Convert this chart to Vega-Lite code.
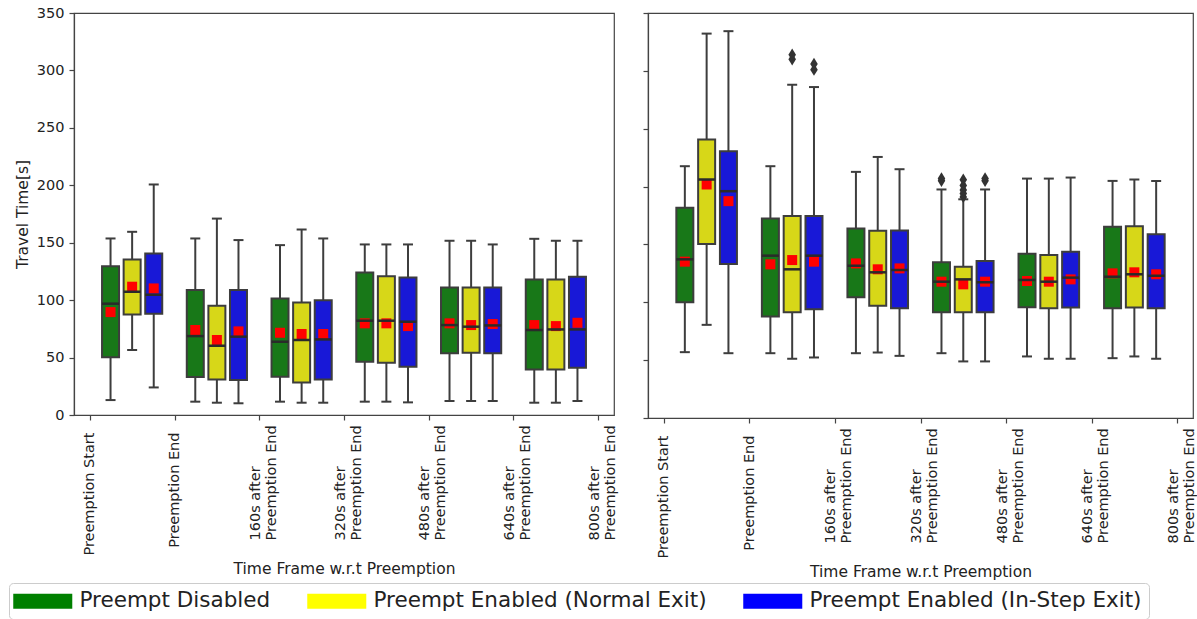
{
  "$schema": "https://vega.github.io/schema/vega-lite/v6.json",
  "padding": {"left": 8, "top": 4, "right": 0, "bottom": 0},
  "background": "white",
  "datasets": {
    "boxes": [
      {"panel": "L", "frame": 0, "mode": "Preempt Disabled", "lower": 13, "q1": 50.2, "median": 96.9, "q3": 129.6, "upper": 153.7, "mean": 89.6},
      {"panel": "L", "frame": 0, "mode": "Preempt Enabled (Normal Exit)", "lower": 56.6, "q1": 87.6, "median": 107.3, "q3": 135.4, "upper": 159.5, "mean": 111.7},
      {"panel": "L", "frame": 0, "mode": "Preempt Enabled (In-Step Exit)", "lower": 24, "q1": 88.2, "median": 104.7, "q3": 140.7, "upper": 200.7, "mean": 110.2},
      {"panel": "L", "frame": 1, "mode": "Preempt Disabled", "lower": 11.6, "q1": 33, "median": 68.7, "q3": 108.8, "upper": 153.7, "mean": 74},
      {"panel": "L", "frame": 1, "mode": "Preempt Enabled (Normal Exit)", "lower": 10.7, "q1": 31, "median": 60.3, "q3": 95.1, "upper": 171, "mean": 65.3},
      {"panel": "L", "frame": 1, "mode": "Preempt Enabled (In-Step Exit)", "lower": 10.2, "q1": 30.5, "median": 68.2, "q3": 108.8, "upper": 152.3, "mean": 72.8},
      {"panel": "L", "frame": 2, "mode": "Preempt Disabled", "lower": 11.6, "q1": 33.4, "median": 63.8, "q3": 101.5, "upper": 147.9, "mean": 71.6},
      {"panel": "L", "frame": 2, "mode": "Preempt Enabled (Normal Exit)", "lower": 10.7, "q1": 28.4, "median": 65.3, "q3": 98, "upper": 161.5, "mean": 70.5},
      {"panel": "L", "frame": 2, "mode": "Preempt Enabled (In-Step Exit)", "lower": 10.7, "q1": 31, "median": 65.8, "q3": 99.8, "upper": 153.7, "mean": 70.5},
      {"panel": "L", "frame": 3, "mode": "Preempt Disabled", "lower": 11.6, "q1": 46.4, "median": 82.1, "q3": 124.1, "upper": 148.5, "mean": 79.8},
      {"panel": "L", "frame": 3, "mode": "Preempt Enabled (Normal Exit)", "lower": 11.6, "q1": 45.5, "median": 82.1, "q3": 120.9, "upper": 148.5, "mean": 79.8},
      {"panel": "L", "frame": 3, "mode": "Preempt Enabled (In-Step Exit)", "lower": 11, "q1": 42, "median": 81.2, "q3": 119.8, "upper": 148.5, "mean": 77.4},
      {"panel": "L", "frame": 4, "mode": "Preempt Disabled", "lower": 12.2, "q1": 53.7, "median": 78.3, "q3": 111, "upper": 151.7, "mean": 79.8},
      {"panel": "L", "frame": 4, "mode": "Preempt Enabled (Normal Exit)", "lower": 12.2, "q1": 54.2, "median": 76.9, "q3": 111, "upper": 151.7, "mean": 78.3},
      {"panel": "L", "frame": 4, "mode": "Preempt Enabled (In-Step Exit)", "lower": 12.2, "q1": 53.7, "median": 78, "q3": 111, "upper": 148.5, "mean": 79.2},
      {"panel": "L", "frame": 5, "mode": "Preempt Disabled", "lower": 10.7, "q1": 39.7, "median": 74, "q3": 118, "upper": 153.4, "mean": 78.3},
      {"panel": "L", "frame": 5, "mode": "Preempt Enabled (Normal Exit)", "lower": 10.7, "q1": 39.7, "median": 74.5, "q3": 118, "upper": 151.7, "mean": 77.4},
      {"panel": "L", "frame": 5, "mode": "Preempt Enabled (In-Step Exit)", "lower": 12.2, "q1": 41.2, "median": 74.5, "q3": 120.4, "upper": 151.7, "mean": 80.3},
      {"panel": "R", "frame": 0, "mode": "Preempt Disabled", "lower": 56.9, "q1": 100, "median": 137.1, "q3": 181.6, "upper": 217.6, "mean": 135.1},
      {"panel": "R", "frame": 0, "mode": "Preempt Enabled (Normal Exit)", "lower": 80.5, "q1": 150.3, "median": 206.1, "q3": 240.6, "upper": 332.2, "mean": 201.8},
      {"panel": "R", "frame": 0, "mode": "Preempt Enabled (In-Step Exit)", "lower": 56, "q1": 133.1, "median": 196, "q3": 230.5, "upper": 334.3, "mean": 187.4},
      {"panel": "R", "frame": 1, "mode": "Preempt Disabled", "lower": 56, "q1": 87.7, "median": 140.3, "q3": 172.4, "upper": 217.6, "mean": 132.8},
      {"panel": "R", "frame": 1, "mode": "Preempt Enabled (Normal Exit)", "lower": 51.2, "q1": 91.4, "median": 128.5, "q3": 174.5, "upper": 288, "mean": 136.5},
      {"panel": "R", "frame": 1, "mode": "Preempt Enabled (In-Step Exit)", "lower": 52.3, "q1": 94, "median": 140.3, "q3": 174.5, "upper": 286, "mean": 135.1},
      {"panel": "R", "frame": 2, "mode": "Preempt Disabled", "lower": 56, "q1": 104.3, "median": 131.6, "q3": 163.8, "upper": 212.7, "mean": 133.6},
      {"panel": "R", "frame": 2, "mode": "Preempt Enabled (Normal Exit)", "lower": 56.6, "q1": 97.1, "median": 125.9, "q3": 161.8, "upper": 225.6, "mean": 128.5},
      {"panel": "R", "frame": 2, "mode": "Preempt Enabled (In-Step Exit)", "lower": 53.7, "q1": 94.8, "median": 127.9, "q3": 162.1, "upper": 215, "mean": 129.3},
      {"panel": "R", "frame": 3, "mode": "Preempt Disabled", "lower": 56, "q1": 91.4, "median": 117.8, "q3": 134.5, "upper": 197.5, "mean": 117.8},
      {"panel": "R", "frame": 3, "mode": "Preempt Enabled (Normal Exit)", "lower": 48.9, "q1": 91.4, "median": 119.8, "q3": 130.8, "upper": 189, "mean": 115.5},
      {"panel": "R", "frame": 3, "mode": "Preempt Enabled (In-Step Exit)", "lower": 48.9, "q1": 91.4, "median": 117.3, "q3": 135.7, "upper": 197.5, "mean": 117.8},
      {"panel": "R", "frame": 4, "mode": "Preempt Disabled", "lower": 53.2, "q1": 95.7, "median": 119.3, "q3": 142, "upper": 206.9, "mean": 118.4},
      {"panel": "R", "frame": 4, "mode": "Preempt Enabled (Normal Exit)", "lower": 51.2, "q1": 94.8, "median": 117.8, "q3": 140.8, "upper": 206.9, "mean": 117.8},
      {"panel": "R", "frame": 4, "mode": "Preempt Enabled (In-Step Exit)", "lower": 51.2, "q1": 95.4, "median": 121.3, "q3": 143.7, "upper": 207.8, "mean": 119.8},
      {"panel": "R", "frame": 5, "mode": "Preempt Disabled", "lower": 51.7, "q1": 94.8, "median": 122.1, "q3": 165.3, "upper": 204.9, "mean": 125},
      {"panel": "R", "frame": 5, "mode": "Preempt Enabled (Normal Exit)", "lower": 53.2, "q1": 95.4, "median": 124.2, "q3": 165.8, "upper": 206.1, "mean": 125.9},
      {"panel": "R", "frame": 5, "mode": "Preempt Enabled (In-Step Exit)", "lower": 51.2, "q1": 94.8, "median": 123, "q3": 158.9, "upper": 204.9, "mean": 124.2}
    ],
    "outliers": [
      {"panel": "R", "frame": 1, "mode": "Preempt Enabled (Normal Exit)", "value": 310},
      {"panel": "R", "frame": 1, "mode": "Preempt Enabled (Normal Exit)", "value": 314},
      {"panel": "R", "frame": 1, "mode": "Preempt Enabled (In-Step Exit)", "value": 301},
      {"panel": "R", "frame": 1, "mode": "Preempt Enabled (In-Step Exit)", "value": 306},
      {"panel": "R", "frame": 3, "mode": "Preempt Disabled", "value": 205},
      {"panel": "R", "frame": 3, "mode": "Preempt Disabled", "value": 207},
      {"panel": "R", "frame": 3, "mode": "Preempt Enabled (Normal Exit)", "value": 191},
      {"panel": "R", "frame": 3, "mode": "Preempt Enabled (Normal Exit)", "value": 194},
      {"panel": "R", "frame": 3, "mode": "Preempt Enabled (Normal Exit)", "value": 197},
      {"panel": "R", "frame": 3, "mode": "Preempt Enabled (Normal Exit)", "value": 201},
      {"panel": "R", "frame": 3, "mode": "Preempt Enabled (Normal Exit)", "value": 206},
      {"panel": "R", "frame": 3, "mode": "Preempt Enabled (In-Step Exit)", "value": 205},
      {"panel": "R", "frame": 3, "mode": "Preempt Enabled (In-Step Exit)", "value": 207}
    ]
  },
  "bounds": "flush",
  "spacing": 34,
  "hconcat": [
    {
      "width": 540,
      "height": 402,
      "data": {"name": "boxes"},
      "transform": [{"filter": "datum.panel == 'L'"}],
      "encoding": {
        "x": {"field": "frame", "type": "quantitative",
          "scale": {"domain": [-0.627, 5.627], "nice": false, "zero": false},
          "axis": {"values": [-0.5, 0.5, 1.5, 2.5, 3.5, 4.5, 5.5],
            "labelExpr": "[['Preemption Start'],['Preemption End'],['160s after','Preemption End'],['320s after','Preemption End'],['480s after','Preemption End'],['640s after','Preemption End'],['800s after','Preemption End']][round(datum.value + 0.5)]",
            "labelAngle": -90,
            "labelAlign": {"condition": {"test": "datum.value > 1", "value": "left"}, "value": "right"},
            "labelBaseline": {"condition": {"test": "datum.value > 1", "value": "alphabetic"}, "value": "middle"},
            "labelPadding": {"condition": {"test": "datum.value > 1", "value": 120}, "value": 12},
            "title": "Time Frame w.r.t Preemption"}},
        "y": {"type": "quantitative", "scale": {"domain": [0, 350], "nice": false},
          "axis": {"values": [0, 50, 100, 150, 200, 250, 300, 350], "title": "Travel Time[s]"}}
      },
      "layer": [
        {"transform": [{"filter": "datum.mode == 'Preempt Disabled'"}],
         "layer": [
          {"mark": {"type": "rule", "color": "#3d3d3d", "strokeWidth": 2, "xOffset": -21.6},
           "encoding": {"y": {"field": "lower", "type": "quantitative"}, "y2": {"field": "upper"}}},
          {"mark": {"type": "tick", "orient": "horizontal", "size": 10, "thickness": 2, "color": "#3d3d3d", "opacity": 1, "xOffset": -21.6},
           "encoding": {"y": {"field": "lower", "type": "quantitative"}}},
          {"mark": {"type": "tick", "orient": "horizontal", "size": 10, "thickness": 2, "color": "#3d3d3d", "opacity": 1, "xOffset": -21.6},
           "encoding": {"y": {"field": "upper", "type": "quantitative"}}},
          {"mark": {"type": "bar", "width": 17, "strokeWidth": 0, "xOffset": -21.6},
           "encoding": {"y": {"field": "q1", "type": "quantitative"}, "y2": {"field": "q3"},
             "color": {"field": "mode", "type": "nominal",
               "scale": {"domain": ["Preempt Disabled", "Preempt Enabled (Normal Exit)", "Preempt Enabled (In-Step Exit)"], "range": ["#008000", "#ffff00", "#0000ff"]}}}},
          {"mark": {"type": "bar", "width": 17, "fill": "#606060", "fillOpacity": 0.25, "stroke": "#3d3d3d", "strokeWidth": 2, "strokeOpacity": 1, "xOffset": -21.6},
           "encoding": {"y": {"field": "q1", "type": "quantitative"}, "y2": {"field": "q3"}}},
          {"mark": {"type": "point", "shape": "square", "filled": true, "size": 100, "color": "#ff0000", "opacity": 1, "xOffset": -21.6},
           "encoding": {"y": {"field": "mean", "type": "quantitative"}}},
          {"mark": {"type": "tick", "orient": "horizontal", "size": 17, "thickness": 2.5, "color": "#2a2a2a", "opacity": 1, "xOffset": -21.6},
           "encoding": {"y": {"field": "median", "type": "quantitative"}}}
         ]},
        {"transform": [{"filter": "datum.mode == 'Preempt Enabled (Normal Exit)'"}],
         "layer": [
          {"mark": {"type": "rule", "color": "#3d3d3d", "strokeWidth": 2},
           "encoding": {"y": {"field": "lower", "type": "quantitative"}, "y2": {"field": "upper"}}},
          {"mark": {"type": "tick", "orient": "horizontal", "size": 10, "thickness": 2, "color": "#3d3d3d", "opacity": 1},
           "encoding": {"y": {"field": "lower", "type": "quantitative"}}},
          {"mark": {"type": "tick", "orient": "horizontal", "size": 10, "thickness": 2, "color": "#3d3d3d", "opacity": 1},
           "encoding": {"y": {"field": "upper", "type": "quantitative"}}},
          {"mark": {"type": "bar", "width": 17, "strokeWidth": 0},
           "encoding": {"y": {"field": "q1", "type": "quantitative"}, "y2": {"field": "q3"},
             "color": {"field": "mode", "type": "nominal",
               "scale": {"domain": ["Preempt Disabled", "Preempt Enabled (Normal Exit)", "Preempt Enabled (In-Step Exit)"], "range": ["#008000", "#ffff00", "#0000ff"]}}}},
          {"mark": {"type": "bar", "width": 17, "fill": "#606060", "fillOpacity": 0.25, "stroke": "#3d3d3d", "strokeWidth": 2, "strokeOpacity": 1},
           "encoding": {"y": {"field": "q1", "type": "quantitative"}, "y2": {"field": "q3"}}},
          {"mark": {"type": "point", "shape": "square", "filled": true, "size": 100, "color": "#ff0000", "opacity": 1},
           "encoding": {"y": {"field": "mean", "type": "quantitative"}}},
          {"mark": {"type": "tick", "orient": "horizontal", "size": 17, "thickness": 2.5, "color": "#2a2a2a", "opacity": 1},
           "encoding": {"y": {"field": "median", "type": "quantitative"}}}
         ]},
        {"transform": [{"filter": "datum.mode == 'Preempt Enabled (In-Step Exit)'"}],
         "layer": [
          {"mark": {"type": "rule", "color": "#3d3d3d", "strokeWidth": 2, "xOffset": 21.6},
           "encoding": {"y": {"field": "lower", "type": "quantitative"}, "y2": {"field": "upper"}}},
          {"mark": {"type": "tick", "orient": "horizontal", "size": 10, "thickness": 2, "color": "#3d3d3d", "opacity": 1, "xOffset": 21.6},
           "encoding": {"y": {"field": "lower", "type": "quantitative"}}},
          {"mark": {"type": "tick", "orient": "horizontal", "size": 10, "thickness": 2, "color": "#3d3d3d", "opacity": 1, "xOffset": 21.6},
           "encoding": {"y": {"field": "upper", "type": "quantitative"}}},
          {"mark": {"type": "bar", "width": 17, "strokeWidth": 0, "xOffset": 21.6},
           "encoding": {"y": {"field": "q1", "type": "quantitative"}, "y2": {"field": "q3"},
             "color": {"field": "mode", "type": "nominal",
               "scale": {"domain": ["Preempt Disabled", "Preempt Enabled (Normal Exit)", "Preempt Enabled (In-Step Exit)"], "range": ["#008000", "#ffff00", "#0000ff"]}}}},
          {"mark": {"type": "bar", "width": 17, "fill": "#606060", "fillOpacity": 0.25, "stroke": "#3d3d3d", "strokeWidth": 2, "strokeOpacity": 1, "xOffset": 21.6},
           "encoding": {"y": {"field": "q1", "type": "quantitative"}, "y2": {"field": "q3"}}},
          {"mark": {"type": "point", "shape": "square", "filled": true, "size": 100, "color": "#ff0000", "opacity": 1, "xOffset": 21.6},
           "encoding": {"y": {"field": "mean", "type": "quantitative"}}},
          {"mark": {"type": "tick", "orient": "horizontal", "size": 17, "thickness": 2.5, "color": "#2a2a2a", "opacity": 1, "xOffset": 21.6},
           "encoding": {"y": {"field": "median", "type": "quantitative"}}}
         ]}
      ]
    },
    {
      "width": 545,
      "height": 405,
      "data": {"name": "boxes"},
      "transform": [{"filter": "datum.panel == 'R'"}],
      "encoding": {
        "x": {"field": "frame", "type": "quantitative",
          "scale": {"domain": [-0.627, 5.627], "nice": false, "zero": false},
          "axis": {"values": [-0.5, 0.5, 1.5, 2.5, 3.5, 4.5, 5.5],
            "labelExpr": "[['Preemption Start'],['Preemption End'],['160s after','Preemption End'],['320s after','Preemption End'],['480s after','Preemption End'],['640s after','Preemption End'],['800s after','Preemption End']][round(datum.value + 0.5)]",
            "labelAngle": -90,
            "labelAlign": {"condition": {"test": "datum.value > 1", "value": "left"}, "value": "right"},
            "labelBaseline": {"condition": {"test": "datum.value > 1", "value": "alphabetic"}, "value": "middle"},
            "labelPadding": {"condition": {"test": "datum.value > 1", "value": 120}, "value": 12},
            "title": "Time Frame w.r.t Preemption"}},
        "y": {"type": "quantitative", "scale": {"domain": [0, 350], "nice": false},
          "axis": {"values": [0, 50, 100, 150, 200, 250, 300, 350], "labels": false, "title": null}}
      },
      "layer": [
        {"transform": [{"filter": "datum.mode == 'Preempt Disabled'"}],
         "layer": [
          {"mark": {"type": "rule", "color": "#3d3d3d", "strokeWidth": 2, "xOffset": -21.8},
           "encoding": {"y": {"field": "lower", "type": "quantitative"}, "y2": {"field": "upper"}}},
          {"mark": {"type": "tick", "orient": "horizontal", "size": 10, "thickness": 2, "color": "#3d3d3d", "opacity": 1, "xOffset": -21.8},
           "encoding": {"y": {"field": "lower", "type": "quantitative"}}},
          {"mark": {"type": "tick", "orient": "horizontal", "size": 10, "thickness": 2, "color": "#3d3d3d", "opacity": 1, "xOffset": -21.8},
           "encoding": {"y": {"field": "upper", "type": "quantitative"}}},
          {"data": {"name": "outliers"}, "transform": [{"filter": "datum.panel == 'R' && datum.mode == 'Preempt Disabled'"}],
           "mark": {"type": "point", "shape": "M0,-1L0.62,0L0,1L-0.62,0Z", "filled": true, "size": 150, "color": "#333333", "opacity": 1, "xOffset": -21.8},
           "encoding": {"y": {"field": "value", "type": "quantitative"}}},
          {"mark": {"type": "bar", "width": 17, "strokeWidth": 0, "xOffset": -21.8},
           "encoding": {"y": {"field": "q1", "type": "quantitative"}, "y2": {"field": "q3"},
             "color": {"field": "mode", "type": "nominal",
               "scale": {"domain": ["Preempt Disabled", "Preempt Enabled (Normal Exit)", "Preempt Enabled (In-Step Exit)"], "range": ["#008000", "#ffff00", "#0000ff"]}}}},
          {"mark": {"type": "bar", "width": 17, "fill": "#606060", "fillOpacity": 0.25, "stroke": "#3d3d3d", "strokeWidth": 2, "strokeOpacity": 1, "xOffset": -21.8},
           "encoding": {"y": {"field": "q1", "type": "quantitative"}, "y2": {"field": "q3"}}},
          {"mark": {"type": "point", "shape": "square", "filled": true, "size": 100, "color": "#ff0000", "opacity": 1, "xOffset": -21.8},
           "encoding": {"y": {"field": "mean", "type": "quantitative"}}},
          {"mark": {"type": "tick", "orient": "horizontal", "size": 17, "thickness": 2.5, "color": "#2a2a2a", "opacity": 1, "xOffset": -21.8},
           "encoding": {"y": {"field": "median", "type": "quantitative"}}}
         ]},
        {"transform": [{"filter": "datum.mode == 'Preempt Enabled (Normal Exit)'"}],
         "layer": [
          {"mark": {"type": "rule", "color": "#3d3d3d", "strokeWidth": 2},
           "encoding": {"y": {"field": "lower", "type": "quantitative"}, "y2": {"field": "upper"}}},
          {"mark": {"type": "tick", "orient": "horizontal", "size": 10, "thickness": 2, "color": "#3d3d3d", "opacity": 1},
           "encoding": {"y": {"field": "lower", "type": "quantitative"}}},
          {"mark": {"type": "tick", "orient": "horizontal", "size": 10, "thickness": 2, "color": "#3d3d3d", "opacity": 1},
           "encoding": {"y": {"field": "upper", "type": "quantitative"}}},
          {"data": {"name": "outliers"}, "transform": [{"filter": "datum.panel == 'R' && datum.mode == 'Preempt Enabled (Normal Exit)'"}],
           "mark": {"type": "point", "shape": "M0,-1L0.62,0L0,1L-0.62,0Z", "filled": true, "size": 150, "color": "#333333", "opacity": 1},
           "encoding": {"y": {"field": "value", "type": "quantitative"}}},
          {"mark": {"type": "bar", "width": 17, "strokeWidth": 0},
           "encoding": {"y": {"field": "q1", "type": "quantitative"}, "y2": {"field": "q3"},
             "color": {"field": "mode", "type": "nominal",
               "scale": {"domain": ["Preempt Disabled", "Preempt Enabled (Normal Exit)", "Preempt Enabled (In-Step Exit)"], "range": ["#008000", "#ffff00", "#0000ff"]}}}},
          {"mark": {"type": "bar", "width": 17, "fill": "#606060", "fillOpacity": 0.25, "stroke": "#3d3d3d", "strokeWidth": 2, "strokeOpacity": 1},
           "encoding": {"y": {"field": "q1", "type": "quantitative"}, "y2": {"field": "q3"}}},
          {"mark": {"type": "point", "shape": "square", "filled": true, "size": 100, "color": "#ff0000", "opacity": 1},
           "encoding": {"y": {"field": "mean", "type": "quantitative"}}},
          {"mark": {"type": "tick", "orient": "horizontal", "size": 17, "thickness": 2.5, "color": "#2a2a2a", "opacity": 1},
           "encoding": {"y": {"field": "median", "type": "quantitative"}}}
         ]},
        {"transform": [{"filter": "datum.mode == 'Preempt Enabled (In-Step Exit)'"}],
         "layer": [
          {"mark": {"type": "rule", "color": "#3d3d3d", "strokeWidth": 2, "xOffset": 21.8},
           "encoding": {"y": {"field": "lower", "type": "quantitative"}, "y2": {"field": "upper"}}},
          {"mark": {"type": "tick", "orient": "horizontal", "size": 10, "thickness": 2, "color": "#3d3d3d", "opacity": 1, "xOffset": 21.8},
           "encoding": {"y": {"field": "lower", "type": "quantitative"}}},
          {"mark": {"type": "tick", "orient": "horizontal", "size": 10, "thickness": 2, "color": "#3d3d3d", "opacity": 1, "xOffset": 21.8},
           "encoding": {"y": {"field": "upper", "type": "quantitative"}}},
          {"data": {"name": "outliers"}, "transform": [{"filter": "datum.panel == 'R' && datum.mode == 'Preempt Enabled (In-Step Exit)'"}],
           "mark": {"type": "point", "shape": "M0,-1L0.62,0L0,1L-0.62,0Z", "filled": true, "size": 150, "color": "#333333", "opacity": 1, "xOffset": 21.8},
           "encoding": {"y": {"field": "value", "type": "quantitative"}}},
          {"mark": {"type": "bar", "width": 17, "strokeWidth": 0, "xOffset": 21.8},
           "encoding": {"y": {"field": "q1", "type": "quantitative"}, "y2": {"field": "q3"},
             "color": {"field": "mode", "type": "nominal",
               "scale": {"domain": ["Preempt Disabled", "Preempt Enabled (Normal Exit)", "Preempt Enabled (In-Step Exit)"], "range": ["#008000", "#ffff00", "#0000ff"]}}}},
          {"mark": {"type": "bar", "width": 17, "fill": "#606060", "fillOpacity": 0.25, "stroke": "#3d3d3d", "strokeWidth": 2, "strokeOpacity": 1, "xOffset": 21.8},
           "encoding": {"y": {"field": "q1", "type": "quantitative"}, "y2": {"field": "q3"}}},
          {"mark": {"type": "point", "shape": "square", "filled": true, "size": 100, "color": "#ff0000", "opacity": 1, "xOffset": 21.8},
           "encoding": {"y": {"field": "mean", "type": "quantitative"}}},
          {"mark": {"type": "tick", "orient": "horizontal", "size": 17, "thickness": 2.5, "color": "#2a2a2a", "opacity": 1, "xOffset": 21.8},
           "encoding": {"y": {"field": "median", "type": "quantitative"}}}
         ]}
      ]
    }
  ],
  "config": {
    "font": "DejaVu Sans",
    "view": {"stroke": "#444444", "strokeWidth": 1.2},
    "axis": {
      "grid": false,
      "labelFont": "DejaVu Sans", "titleFont": "DejaVu Sans",
      "labelFontSize": 14.5, "titleFontSize": 15.5, "titleFontWeight": "normal",
      "labelColor": "#222222", "titleColor": "#222222",
      "domainColor": "#444444", "tickColor": "#444444", "domainWidth": 1.2, "tickWidth": 1.2,
      "tickSize": 5, "labelLineHeight": 16, "labelOverlap": false, "labelFlush": false, "labelLimit": 0
    },
    "axisX": {"titlePadding": 6},
    "axisY": {"labelPadding": 5, "titlePadding": 6},
    "legend": {
      "orient": "none", "legendX": -65, "legendY": 570,
      "direction": "horizontal", "title": null,
      "symbolType": "M-1.8,-1H6.07V1H-1.8Z", "symbolSize": 225, "symbolStrokeWidth": 0, "symbolOpacity": 1,
      "labelFont": "DejaVu Sans", "labelFontSize": 21.5, "labelColor": "#222222", "labelOffset": 42, "labelLimit": 0,
      "columnPadding": 36, "padding": 7,
      "strokeColor": "#cccccc", "cornerRadius": 4, "fillColor": "white"
    }
  }
}
